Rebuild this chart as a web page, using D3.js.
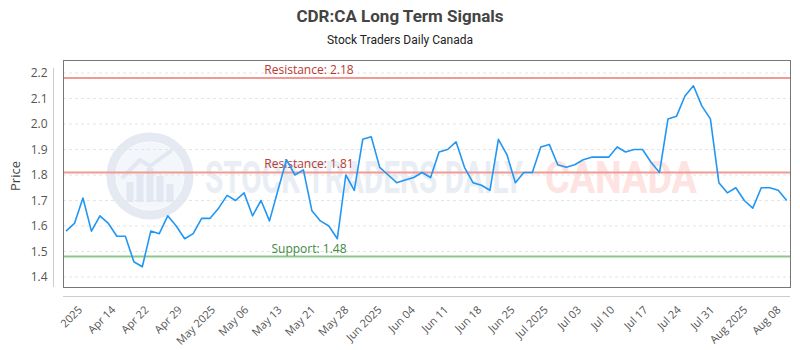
<!DOCTYPE html>
<html>
<head>
<meta charset="utf-8">
<script src="https://cdn.jsdelivr.net/npm/d3@7"></script>
<style>
  html, body { margin: 0; padding: 0; background: #fff; }
  svg { display: block; }
</style>
</head>
<body>
<svg id="chart" width="800" height="350"></svg>
<script>
const titleText = "CDR:CA Long Term Signals";
const subtitleText = "Stock Traders Daily Canada";
const prices = [
  1.58, 1.61, 1.71, 1.58, 1.64, 1.61, 1.56, 1.56, 1.46, 1.44,
  1.58, 1.57, 1.64, 1.60, 1.55, 1.57, 1.63, 1.63, 1.67, 1.72,
  1.70, 1.73, 1.64, 1.70, 1.62, 1.74, 1.86, 1.80, 1.82, 1.66,
  1.62, 1.60, 1.55, 1.80, 1.74, 1.94, 1.95, 1.83, 1.80, 1.77,
  1.78, 1.79, 1.81, 1.79, 1.89, 1.90, 1.93, 1.83, 1.77, 1.76,
  1.74, 1.94, 1.88, 1.77, 1.81, 1.81, 1.91, 1.92, 1.84, 1.83,
  1.84, 1.86, 1.87, 1.87, 1.87, 1.91, 1.89, 1.90, 1.90, 1.85,
  1.81, 2.02, 2.03, 2.11, 2.15, 2.07, 2.02, 1.77, 1.73, 1.75,
  1.70, 1.67, 1.75, 1.75, 1.74, 1.70
];
const tickLabels = ["2025", "Apr 14", "Apr 22", "Apr 29", "May 2025", "May 06", "May 13",
  "May 21", "May 28", "Jun 2025", "Jun 04", "Jun 11", "Jun 18", "Jun 25", "Jul 2025",
  "Jul 03", "Jul 10", "Jul 17", "Jul 24", "Jul 31", "Aug 2025", "Aug 08"];
const yTicks = [1.4, 1.5, 1.6, 1.7, 1.8, 1.9, 2.0, 2.1, 2.2];
const levelNames = ["Resistance", "Resistance", "Support"];
const levelValues = [2.18, 1.81, 1.48];
const levelKinds = ["res", "res", "sup"];

const svg = d3.select("#chart");
const plotL = 63, plotR = 790, plotT = 60, plotB = 287;

const x = d3.scaleLinear().domain([0, prices.length - 1]).range([66, 786.7]);
const y = d3.scaleLinear().domain([1.4, 2.2]).range([277, 73]);
const xt = d3.scalePoint().domain(tickLabels).range([84.5, 783]);

// Title
svg.append("text").attr("x", 400).attr("y", 22).attr("text-anchor", "middle")
  .attr("font-family", "Roboto, 'Noto Sans', sans-serif").attr("font-weight", "bold")
  .attr("font-size", 17).attr("fill", "#444").text(titleText);
svg.append("text").attr("x", 400).attr("y", 44).attr("text-anchor", "middle")
  .attr("font-family", "Roboto, 'Noto Sans', sans-serif")
  .attr("font-size", 12).attr("fill", "#222").text(subtitleText);

// Watermark
const wm = svg.append("g").attr("pointer-events", "none");
wm.append("circle").attr("cx", 150).attr("cy", 176).attr("r", 39)
  .attr("fill", "none").attr("stroke", "#e4e9f2").attr("stroke-width", 9);
wm.append("circle").attr("cx", 150).attr("cy", 176).attr("r", 34)
  .attr("fill", "#f3f6fa");
[[-20, 12], [-10, 20], [0, 26], [10, 18], [20, 10]].forEach(([dx, h]) => {
  wm.append("rect").attr("x", 150 + dx - 3.5).attr("y", 202 - h - 8).attr("width", 7).attr("height", h + 8)
    .attr("fill", "#e2e8f1");
});
wm.append("path").attr("d", "M122,178 L140,160 L150,166 L172,150")
  .attr("fill", "none").attr("stroke", "#e2e8f1").attr("stroke-width", 4);
wm.append("text").attr("x", 205).attr("y", 193)
  .attr("font-family", "Roboto, sans-serif").attr("font-weight", "bold").attr("font-size", 44)
  .attr("textLength", 318).attr("lengthAdjust", "spacingAndGlyphs")
  .attr("fill", "#e9eef5").text("STOCK TRADERS DAILY");
wm.append("text").attr("x", 545).attr("y", 193)
  .attr("font-family", "Roboto, sans-serif").attr("font-weight", "bold").attr("font-size", 44)
  .attr("textLength", 152).attr("lengthAdjust", "spacingAndGlyphs")
  .attr("fill", "#fde3e1").text("CANADA");

// Gridlines
svg.append("g").selectAll("line").data(yTicks).join("line")
  .attr("x1", plotL).attr("x2", plotR)
  .attr("y1", d => y(d)).attr("y2", d => y(d))
  .attr("stroke", "#e4e4e4").attr("stroke-dasharray", "3,3").attr("stroke-width", 1);

// Level lines
const levelColor = k => k === "res" ? "#f19a94" : "#8cc88c";
const levelText = k => k === "res" ? "#b83a32" : "#3c8a3c";
const lv = svg.append("g");
levelValues.forEach((v, i) => {
  lv.append("line").attr("x1", plotL).attr("x2", plotR)
    .attr("y1", y(v)).attr("y2", y(v))
    .attr("stroke", levelColor(levelKinds[i])).attr("stroke-width", 2);
  lv.append("text").attr("x", 309).attr("y", y(v) - 4).attr("text-anchor", "middle")
    .attr("font-family", "'Open Sans', sans-serif").attr("font-size", 12)
    .attr("fill", levelText(levelKinds[i]))
    .text(levelNames[i] + ": " + d3.format(".2f")(v));
});

// Price line
svg.append("path").datum(prices)
  .attr("d", d3.line().x((d, i) => x(i)).y(d => y(d)))
  .attr("fill", "none").attr("stroke", "#2196f3").attr("stroke-width", 1.6)
  .attr("stroke-linejoin", "round");

// Plot border
svg.append("rect").attr("x", plotL + 0.5).attr("y", plotT + 0.5)
  .attr("width", plotR - plotL).attr("height", plotB - plotT)
  .attr("fill", "none").attr("stroke", "#777").attr("stroke-width", 1);

// Y axis
const yAxis = d3.axisLeft(y).tickValues(yTicks).tickFormat(d3.format(".1f")).tickSize(0).tickPadding(6);
const yg = svg.append("g").attr("transform", "translate(53.5,0)").call(yAxis);
yg.select(".domain").attr("d", `M0,68V${plotB}`).attr("stroke", "#ccc");
yg.selectAll("text").attr("font-family", "'Open Sans', sans-serif").attr("font-size", 12).attr("fill", "#555");

// X axis
const xAxis = d3.axisBottom(xt).tickSize(0).tickPadding(0);
const xg = svg.append("g").attr("transform", "translate(0,296.5)").call(xAxis);
xg.select(".domain").attr("d", `M${plotL},0H${plotR}`).attr("stroke", "#ccc");
xg.selectAll("text")
  .attr("font-family", "'Open Sans', sans-serif").attr("font-size", 11).attr("fill", "#555")
  .attr("text-anchor", "end").attr("dy", 0).attr("y", 0)
  .attr("transform", "translate(-2,14) rotate(-45)");

// Y axis title
svg.append("text").attr("transform", "translate(20,176) rotate(-90)")
  .attr("text-anchor", "middle").attr("font-family", "'Open Sans', sans-serif")
  .attr("font-size", 13).attr("fill", "#444").text("Price");
</script>
</body>
</html>
